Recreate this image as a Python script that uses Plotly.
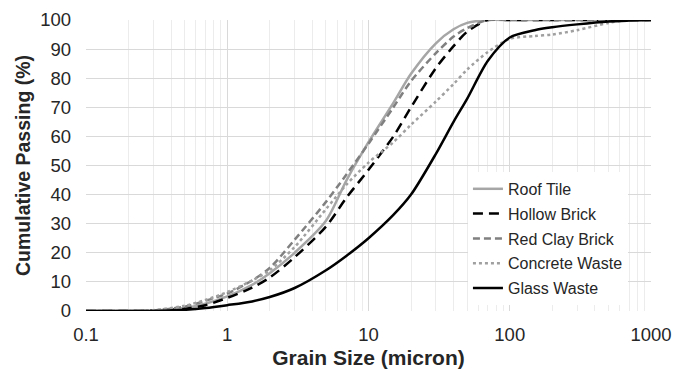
import plotly.graph_objects as go

grain_size = [0.1, 0.2, 0.3, 0.5, 0.7, 1, 1.5, 2, 3, 5, 7, 10, 15, 20, 30, 40, 50, 70,
              100, 150, 200, 300, 500, 700, 1000]

roof_tile = [0, 0, 0.1, 1, 2.5, 5, 9, 13, 20, 31, 45, 58, 71.5, 81.5, 92, 96.8, 99, 100,
             100, 100, 100, 100, 100, 100, 100]
hollow_brick = [0, 0, 0.1, 0.8, 2, 4.5, 8, 11.5, 18.5, 29, 39, 48.5, 60, 70, 83.5, 91, 96, 100,
                100, 100, 100, 100, 100, 100, 100]
red_clay_brick = [0, 0, 0.2, 1.5, 3.5, 6, 10.5, 14.8, 24.5, 37.5, 47, 57.5, 70, 79, 88.6, 94.3, 97.2, 100,
                  100, 100, 100, 100, 100, 100, 100]
concrete_waste = [0, 0, 0.3, 1.8, 3.8, 6.5, 10.5, 14, 22, 35, 43.5, 51, 58, 64, 72, 78, 83, 89,
                  93.5, 94.5, 95, 96.5, 99, 100, 100]
glass_waste = [0, 0, 0, 0.4, 1, 2, 3.3, 4.8, 7.9, 14, 19, 25, 33, 40, 54, 65, 73, 86,
               94, 96.5, 97.5, 98.5, 99.5, 99.8, 100]

x_ticks = [0.1, 1, 10, 100, 1000]
x_tick_labels = ["0.1", "1", "10", "100", "1000"]

series = [
    ("Roof Tile", roof_tile, "#a6a6a6", "solid"),
    ("Hollow Brick", hollow_brick, "#000000", "10px,6px"),
    ("Red Clay Brick", red_clay_brick, "#808080", "7px,4px"),
    ("Concrete Waste", concrete_waste, "#a0a0a0", "3px,3px"),
    ("Glass Waste", glass_waste, "#000000", "solid"),
]

fig = go.Figure()
for name, vals, color, dash in series:
    fig.add_trace(go.Scatter(
        x=grain_size, y=vals, name=name, mode="lines", legendgroup=name,
        line=dict(color=color, width=2.5, dash=dash, shape="spline", smoothing=0.8),
    ))

font_family = "Liberation Sans, Arial, sans-serif"
fig.update_layout(
    width=689, height=371,
    margin=dict(l=86, r=38, t=20, b=60),
    paper_bgcolor="white", plot_bgcolor="white",
    font=dict(family=font_family, color="#262626"),
    showlegend=True,
    legend=dict(
        x=0.676, y=0.478, xanchor="left", yanchor="top",
        bgcolor="white", borderwidth=0,
        font=dict(size=16, color="#262626", family=font_family),
        itemwidth=30, traceorder="grouped", tracegroupgap=1,
    ),
    xaxis=dict(
        type="log", range=[-1, 3], automargin=False,
        tickvals=x_ticks, ticktext=x_tick_labels,
        showgrid=True, gridcolor="#d9d9d9", gridwidth=1,
        minor=dict(dtick="D1", showgrid=True, gridcolor="#ececec", gridwidth=1),
        zeroline=False, showline=False, ticks="",
        ticklabelstandoff=10,
        tickfont=dict(size=18.5, color="#262626"),
        title=dict(text="<b>Grain Size (micron)</b>", font=dict(size=21, color="#262626"), standoff=6),
    ),
    yaxis=dict(
        range=[0, 100], dtick=10, automargin=False,
        showgrid=True, gridcolor="#d9d9d9", gridwidth=1,
        zeroline=False, showline=False, ticks="",
        ticklabelstandoff=14,
        tickfont=dict(size=18.5, color="#262626"),
        title=dict(text="<b>Cumulative Passing (%)</b>", font=dict(size=19.5, color="#262626"), standoff=4),
    ),
)

fig.write_html("out.html")
